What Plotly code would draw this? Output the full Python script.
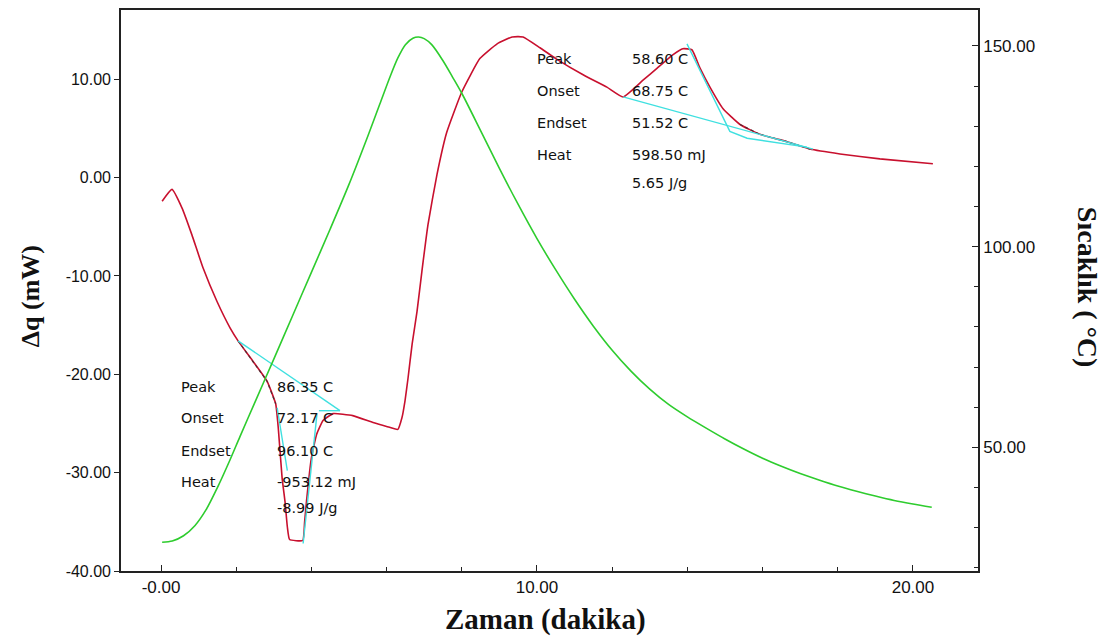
import plotly.graph_objects as go

# DSC heat flow (red, left axis) vs time
dsc_time = [0.03, 0.29, 0.56, 0.82, 1.12, 1.49, 1.84, 2.05, 2.45, 2.82, 3.05, 3.12,
            3.22, 3.30, 3.36, 3.42, 3.77, 3.82, 3.87, 4.00, 4.14, 4.31, 4.58, 5.10,
            5.64, 6.00, 6.30, 6.41, 6.49, 6.57, 6.68, 6.81, 6.94, 7.10, 7.34, 7.60,
            8.00, 8.48, 8.94, 9.34, 9.63, 10.08, 10.50, 11.25, 11.86, 12.29, 12.82,
            13.19, 13.62, 13.88, 14.12, 14.34, 14.60, 14.95, 15.40, 15.93, 16.65,
            17.26, 18.06, 19.12, 20.53]
dsc_heatflow = [-2.4, -1.2, -3.1, -5.8, -9.2, -12.6, -15.3, -16.6, -18.7, -20.7, -23.0, -25.5,
                -30.5, -33.0, -35.5, -36.8, -36.9, -35.0, -32.9, -28.5, -26.1, -24.7, -24.0, -24.2,
                -24.9, -25.3, -25.6, -24.4, -22.7, -20.4, -16.9, -13.6, -9.5, -4.8, 0.3, 4.6,
                8.7, 12.1, 13.6, 14.3, 14.3, 13.2, 12.1, 10.4, 9.2, 8.2, 9.9,
                11.1, 12.5, 13.1, 13.0, 11.1, 9.2, 7.0, 5.4, 4.4, 3.65,
                2.9, 2.4, 1.9, 1.4]

# Sample temperature (green, right axis) vs time
temp_time = [0.03, 0.30, 0.60, 0.90, 1.20, 1.50, 1.84, 2.10, 2.50, 3.00, 3.50, 4.00,
             4.50, 5.00, 5.50, 5.82, 6.10, 6.30, 6.50, 6.70, 6.85, 7.00, 7.20, 7.50,
             7.75, 8.00, 8.50, 9.00, 9.50, 10.00, 10.50, 11.00, 11.50, 12.00, 12.50,
             13.00, 13.50, 14.00, 14.50, 15.00, 15.50, 16.00, 16.50, 17.00, 17.50,
             18.00, 18.50, 19.00, 19.50, 20.00, 20.50]
temp_celsius = [26.4, 26.7, 28.0, 30.5, 34.5, 40.0, 47.0, 52.7, 61.3, 72.0, 82.8, 93.6,
                104.4, 115.5, 127.5, 135.5, 142.5, 147.0, 150.3, 151.9, 152.2, 151.8, 150.3, 146.3,
                142.3, 138.2, 128.9, 119.5, 110.5, 102.0, 94.2, 86.9, 80.2, 74.2, 69.0,
                64.5, 60.7, 57.6, 54.8, 52.1, 49.6, 47.3, 45.3, 43.5, 41.9,
                40.4, 39.1, 37.9, 36.8, 35.9, 35.1]

# Peak integration construction lines (time, heat flow)
peak1_baseline_t = [2.05, 4.76]
peak1_baseline_q = [-16.6, -23.7]
peak1_step_t = [4.20, 4.76]
peak1_step_q = [-23.7, -23.7]
peak1_left_t = [3.09, 3.36]
peak1_left_q = [-23.4, -29.8]
peak1_right_t = [4.15, 3.78]
peak1_right_q = [-24.0, -37.2]

peak2_baseline_t = [12.29, 17.34]
peak2_baseline_q = [8.2, 2.9]
peak2_tangent_t = [13.99, 14.95, 15.13, 15.59, 17.18]
peak2_tangent_q = [13.6, 6.0, 4.7, 4.0, 3.1]

# Integration result labels
peak1_labels = ["Peak", "Onset", "Endset", "Heat", ""]
peak1_values = ["86.35 C", "72.17 C", "96.10 C", "-953.12 mJ", "-8.99 J/g"]
peak2_labels = ["Peak", "Onset", "Endset", "Heat", ""]
peak2_values = ["58.60 C", "68.75 C", "51.52 C", "598.50 mJ", "5.65 J/g"]

x_ticks = [0, 10, 20]
x_ticktext = ["-0.00", "10.00", "20.00"]
q_ticks = [-40, -30, -20, -10, 0, 10]
t_ticks = [50, 100, 150]

RED = "#C8102E"
GREEN = "#2ECC2E"
CYAN = "#3FE0E0"
DARK = "rgba(50,50,50,0.8)"

fig = go.Figure()

fig.add_trace(go.Scatter(x=temp_time, y=temp_celsius, mode="lines", yaxis="y2",
                         line=dict(color=GREEN, width=1.6, shape="spline", smoothing=0.8),
                         showlegend=False, hoverinfo="skip"))
fig.add_trace(go.Scatter(x=dsc_time, y=dsc_heatflow, mode="lines",
                         line=dict(color=RED, width=1.6, shape="spline", smoothing=0.4),
                         showlegend=False, hoverinfo="skip"))

# dotted dark overlay on the integrated segments of the curve
for lo, hi in [(2.05, 3.05), (15.4, 17.3)]:
    xs = [t for t in dsc_time if lo <= t <= hi]
    ys = [q for t, q in zip(dsc_time, dsc_heatflow) if lo <= t <= hi]
    fig.add_trace(go.Scatter(x=xs, y=ys, mode="lines",
                             line=dict(color=DARK, width=1.2, dash="dot"),
                             showlegend=False, hoverinfo="skip"))

for xs, ys in [(peak1_baseline_t, peak1_baseline_q), (peak1_step_t, peak1_step_q),
               (peak1_left_t, peak1_left_q), (peak1_right_t, peak1_right_q),
               (peak2_baseline_t, peak2_baseline_q), (peak2_tangent_t, peak2_tangent_q)]:
    fig.add_trace(go.Scatter(x=xs, y=ys, mode="lines",
                             line=dict(color=CYAN, width=1.4),
                             showlegend=False, hoverinfo="skip"))

label_font = dict(family="DejaVu Sans, Verdana, sans-serif", size=14.5, color="#111")
annotations = []


def add_block(labels, values, x_lab, x_val, y_rows):
    for lab, val, yy in zip(labels, values, y_rows):
        if lab:
            annotations.append(dict(x=x_lab, y=yy, xref="x", yref="y", text=lab,
                                    showarrow=False, xanchor="left", yanchor="middle",
                                    font=label_font))
        annotations.append(dict(x=x_val, y=yy, xref="x", yref="y", text=val,
                                showarrow=False, xanchor="left", yanchor="middle",
                                font=label_font))


add_block(peak1_labels, peak1_values, 0.48, 3.04, [-21.3, -24.4, -27.8, -30.9, -33.6])
add_block(peak2_labels, peak2_values, 9.95, 12.47, [12.07, 8.82, 5.58, 2.33, -0.6])


def title_font(size):
    return dict(family="Liberation Serif, Times New Roman, serif", size=size, color="#111")


annotations.append(dict(text="<b>Δq (mW)</b>", xref="paper", yref="paper", x=-0.106, y=0.49,
                        xanchor="center", yanchor="middle",
                        textangle=-90, showarrow=False, font=title_font(26)))
annotations.append(dict(text="<b>Zaman (dakika)</b>", xref="paper", yref="paper", x=0.495, y=-0.087,
                        xanchor="center", yanchor="middle",
                        showarrow=False, font=title_font(29)))
annotations.append(dict(text="<b>Sıcaklık ( °C)</b>", xref="paper", yref="paper", x=1.127, y=0.505,
                        xanchor="center", yanchor="middle",
                        textangle=90, showarrow=False, font=title_font(28)))

tick_font = dict(family="Liberation Sans, Arial, sans-serif", size=16, color="#111")
tick_font_wide = dict(family="Liberation Sans, Arial, sans-serif", size=17, color="#111")

fig.update_layout(
    width=1104, height=640,
    margin=dict(l=121, r=126, t=8, b=69),
    paper_bgcolor="white", plot_bgcolor="white",
    annotations=annotations,
    xaxis=dict(range=[-1.064, 21.73], tickvals=x_ticks, ticktext=x_ticktext,
               ticks="inside", ticklen=6, tickcolor="#222", tickwidth=1.2,
               minor=dict(dtick=2, tick0=0, ticks="inside", ticklen=4, tickcolor="#222"),
               showline=True, linecolor="#222", linewidth=1.6, mirror=True,
               showgrid=False, zeroline=False, tickfont=tick_font_wide),
    yaxis=dict(range=[-40, 17.04], tickvals=q_ticks,
               ticktext=[f"{v:.2f}" for v in q_ticks],
               ticks="outside", ticklen=5, tickcolor="#222", tickwidth=1.2,
               showline=True, linecolor="#222", linewidth=1.6,
               showgrid=False, zeroline=False, tickfont=tick_font),
    yaxis2=dict(range=[19.23, 158.93], overlaying="y", side="right",
                tickvals=t_ticks, ticktext=[f"{v:.2f}" for v in t_ticks],
                ticks="inside", ticklen=6, tickcolor="#222", tickwidth=1.2,
                minor=dict(dtick=10, tick0=0, ticks="inside", ticklen=4, tickcolor="#222"),
                showline=True, linecolor="#222", linewidth=1.6,
                showgrid=False, zeroline=False, tickfont=tick_font_wide),
)

fig.write_html("out.html")
